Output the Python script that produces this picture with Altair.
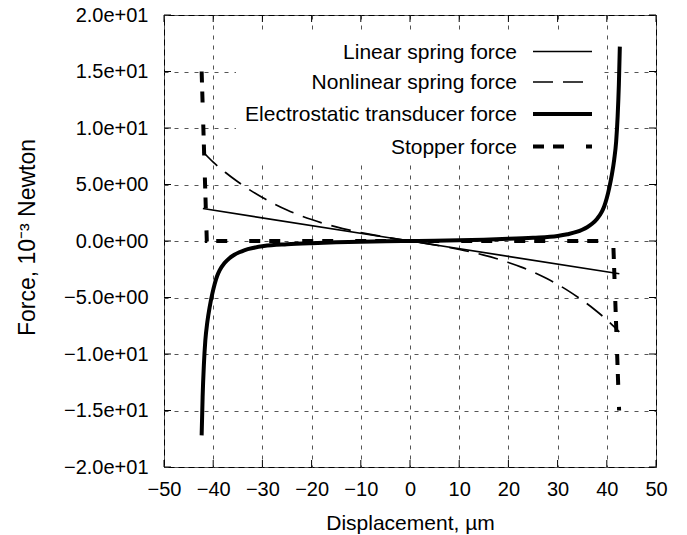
import altair as alt
import pandas as pd

# ---------------- data ----------------
x_ticks = [-50, -40, -30, -20, -10, 0, 10, 20, 30, 40, 50]
y_ticks = [-20, -15, -10, -5, 0, 5, 10, 15, 20]

series_names = ["Linear spring force", "Nonlinear spring force",
                "Electrostatic transducer force", "Stopper force"]

linear_x = [-42.1, 0.0, 42.55]
linear_y = [2.87, 0.0, -2.9]

nonlinear_x = [-42.1, -40, -37.5, -35, -32.5, -30, -27.5, -25, -22.5, -20, -17.5,
               -15, -12.5, -10, -7.5, -5, -2.5, 0, 2.5, 5, 7.5, 10, 12.5, 15,
               17.5, 20, 22.5, 25, 27.5, 30, 32.5, 35, 37.5, 40, 42.55]
nonlinear_y = [7.9, 6.98, 6.06, 5.24, 4.50, 3.84, 3.26, 2.74, 2.29, 1.90, 1.55,
               1.25, 0.98, 0.75, 0.54, 0.35, 0.17, 0.0, -0.17, -0.35, -0.54, -0.75,
               -0.98, -1.25, -1.55, -1.90, -2.29, -2.74, -3.26, -3.84, -4.50,
               -5.24, -6.06, -6.98, -8.05]

electro_x = [-42.35, -42.15, -41.9, -41.6, -41.2, -40.7, -40.2, -39.7, -39.2,
             -38.7, -37.7, -36.7, -35.7, -34.7, -33.7, -31.7, -29.7, -25, -20,
             -15, -10, -5, 0, 5, 10, 15, 20, 25, 30, 32, 34, 35, 36, 37, 38, 39,
             39.5, 40, 40.5, 41, 41.5, 41.9, 42.2, 42.45, 42.65]
electro_y = [-17.2, -13.8, -11.0, -8.8, -7.2, -5.8, -4.7, -3.8, -3.1, -2.6,
             -1.95, -1.52, -1.22, -1.0, -0.82, -0.6, -0.45, -0.29, -0.19, -0.12,
             -0.07, -0.03, 0.0, 0.03, 0.07, 0.12, 0.19, 0.29, 0.45, 0.6, 0.82,
             1.0, 1.22, 1.52, 1.95, 2.6, 3.1, 3.8, 4.7, 5.8, 7.2, 8.8, 11.0,
             13.8, 17.2]

stopper_x = [-42.35, -41.3, 41.3, 42.5]
stopper_y = [15.0, 0.0, 0.0, -15.0]

# ---------------- layout / styling ----------------
W, H = 492, 452
FONT = "Liberation Sans"


def frame(xs, ys):
    return pd.DataFrame({"x": xs, "y": ys, "order": list(range(len(xs)))})


x_scale = alt.Scale(domain=[-50, 50], nice=False, zero=False)
y_scale = alt.Scale(domain=[-20, 20], nice=False, zero=False)

x_axis = alt.Axis(values=x_ticks, grid=True, gridDash=[4, 6], gridColor="#555555",
                  gridWidth=1, ticks=False, domain=False, labelFont=FONT,
                  labelFontSize=20, labelColor="black", labelPadding=12,
                  labelFlush=False, labelOverlap=False,
                  title="Displacement, µm", titleFont=FONT, titleFontSize=21,
                  titleFontWeight="normal", titleColor="black", titleX=W / 2,
                  titleY=56, titleBaseline="middle", titleAlign="center")
y_axis = alt.Axis(values=y_ticks, grid=True, gridDash=[4, 6], gridColor="#555555",
                  gridWidth=1, ticks=False, domain=False, labelFont=FONT,
                  labelFontSize=20, labelColor="black", labelPadding=16,
                  labelFlush=False, labelOverlap=False,
                  labelExpr="replace(format(datum.value, '.1e'), 'e+', 'e+0')",
                  title="Force, 10⁻³  Newton", titleFont=FONT, titleFontSize=23,
                  titleFontWeight="normal", titleColor="black", titleX=-137,
                  titleY=H / 2 - 4, titleAngle=270, titleBaseline="middle",
                  titleAlign="center")

X = alt.X("x:Q", scale=x_scale, axis=x_axis)
Y = alt.Y("y:Q", scale=y_scale, axis=y_axis)

layers = []

# legend background box (hides the grid behind the key, as in the reference)
layers.append(
    alt.Chart(pd.DataFrame({"k": [0]})).mark_rect(color="white").encode(
        x=alt.value(72), x2=alt.value(437), y=alt.value(20), y2=alt.value(150))
)

# inward tick marks on all four sides
xt = pd.DataFrame({"x": x_ticks})
yt = pd.DataFrame({"y": y_ticks})
layers.append(alt.Chart(xt).mark_rule(color="black", strokeWidth=1).encode(
    x=X, y=alt.value(H), y2=alt.value(H - 7)))
layers.append(alt.Chart(xt).mark_rule(color="black", strokeWidth=1).encode(
    x=X, y=alt.value(0), y2=alt.value(7)))
layers.append(alt.Chart(yt).mark_rule(color="black", strokeWidth=1).encode(
    y=Y, x=alt.value(0), x2=alt.value(7)))
layers.append(alt.Chart(yt).mark_rule(color="black", strokeWidth=1).encode(
    y=Y, x=alt.value(W), x2=alt.value(W - 7)))

styles = [
    dict(strokeWidth=1.6),
    dict(strokeWidth=1.7, strokeDash=[20, 10]),
    dict(strokeWidth=4),
    dict(strokeWidth=4, strokeDash=[11, 9, 11, 22]),
]
series_data = [
    (linear_x, linear_y, "linear"),
    (nonlinear_x, nonlinear_y, "monotone"),
    (electro_x, electro_y, "monotone"),
    (stopper_x, stopper_y, "linear"),
]
for (xs, ys, interp), st in zip(series_data, styles):
    layers.append(
        alt.Chart(frame(xs, ys)).mark_line(color="black", interpolate=interp,
                                           clip=True, **st).encode(
            x=X, y=Y, order="order:Q")
    )

# key (text right-aligned, line sample on the right)
row_y = [36.5, 67, 99, 131.5]
for name, st, ry in zip(series_names, styles, row_y):
    layers.append(
        alt.Chart(pd.DataFrame({"label": [name]})).mark_text(
            align="right", baseline="middle", font=FONT, fontSize=21,
            color="black").encode(text="label:N", x=alt.value(353),
                                  y=alt.value(ry + 1))
    )
    layers.append(
        alt.Chart(pd.DataFrame({"label": [name]})).mark_rule(
            color="black", **st).encode(x=alt.value(369), x2=alt.value(428),
                                        y=alt.value(ry))
    )

chart = alt.layer(*layers).properties(
    width=W, height=H,
    autosize=alt.AutoSizeParams(type="none"),
    padding={"left": 164, "top": 15, "right": 31, "bottom": 68},
    background="white",
).configure_view(stroke="black", strokeWidth=1)

chart.save("out.html", embed_options={"renderer": "svg", "actions": False})
